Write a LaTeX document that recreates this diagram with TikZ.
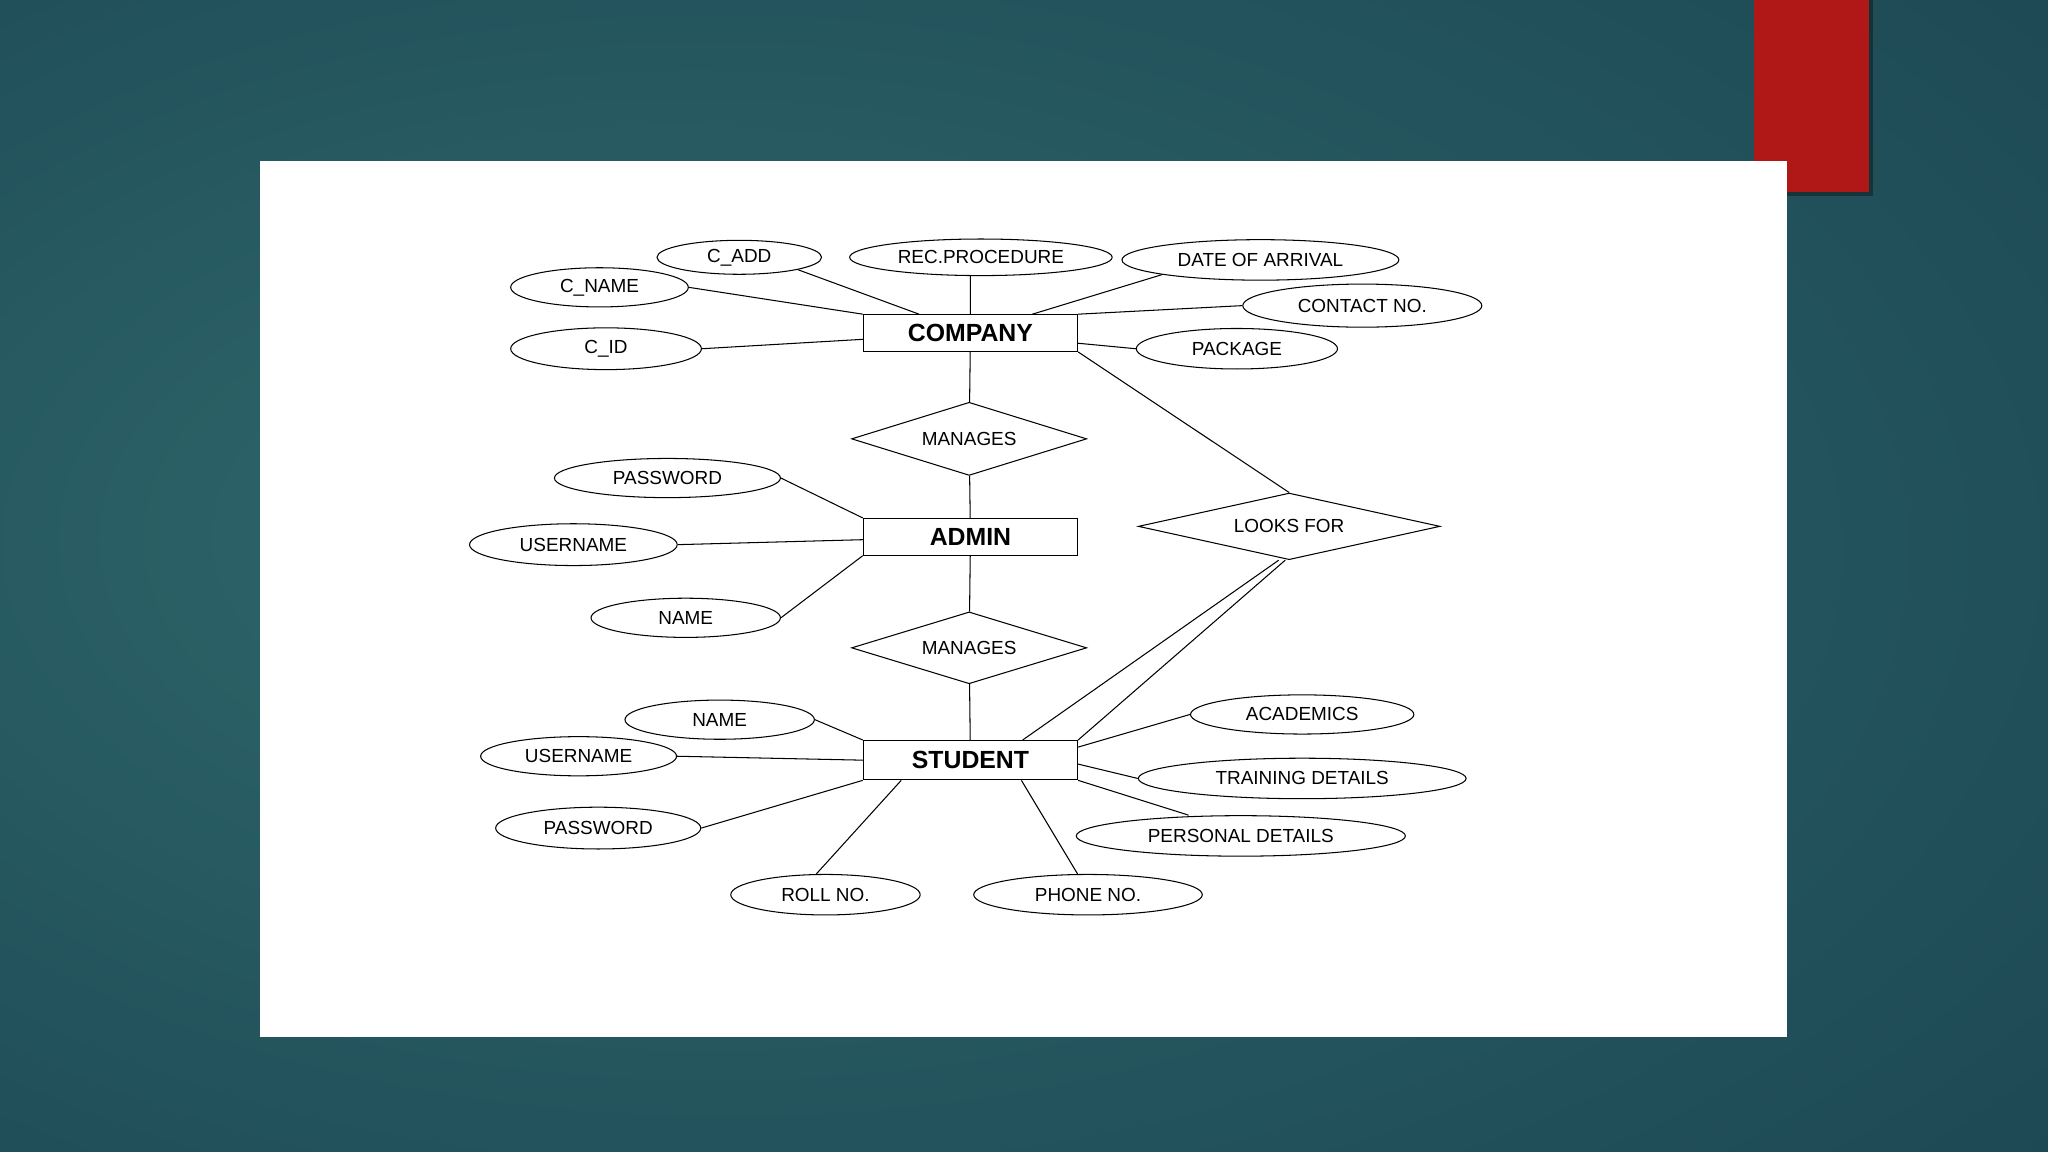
\documentclass[tikz,border=0pt]{standalone}
\usepackage{fontspec}
\setmainfont{Liberation Sans}
\usetikzlibrary{shapes.geometric}
\definecolor{bgdark}{HTML}{143747}
\definecolor{bgmid}{HTML}{21505A}
\definecolor{bglight}{HTML}{2F686B}
\definecolor{tabred}{HTML}{B01717}
\pgfdeclareradialshading{slidebg}{\pgfpoint{-12bp}{2bp}}{color(0bp)=(bglight); color(30bp)=(bgmid); color(62bp)=(bgdark)}
\newcommand{\attrfont}{\fontsize{14.5}{17}\selectfont}
\newcommand{\entfont}{\fontsize{19}{22}\selectfont\bfseries}
\tikzset{
    attr/.style={ellipse,draw,line width=0.8pt,fill=white,inner sep=0pt,font=\attrfont},
    entity/.style={rectangle,draw,line width=0.9pt,fill=white,minimum width=164pt,minimum height=28pt,inner sep=0pt,font=\entfont},
    rel/.style={diamond,draw,line width=0.8pt,fill=white,aspect=3,inner sep=0pt,font=\attrfont},
    link/.style={draw,line width=0.8pt},
}
\begin{document}
\begin{tikzpicture}[x=1pt,y=-1pt]
    \shade[shading=slidebg] (0,0) rectangle (1568,882);
    \useasboundingbox (0,0) rectangle (1568,882);
    \fill[black,opacity=.35] (1345,0) rectangle (1434,150);
    \fill[tabred] (1343,0) rectangle (1431,147);
    \fill[white] (199,123) rectangle (1368,794);

    \node[entity] (company) at (743,255) {COMPANY};
    \node[attr,minimum width=126pt,minimum height=26pt] (cadd) at (566,197) {C\_ADD};
    \node[attr,minimum width=201pt,minimum height=28pt] (recproc) at (751,197) {REC.PROCEDURE};
    \node[attr,minimum width=212pt,minimum height=31pt] (arrival) at (965,199) {DATE OF ARRIVAL};
    \node[attr,minimum width=136pt,minimum height=30pt] (cname) at (459,220) {C\_NAME};
    \node[attr,minimum width=183pt,minimum height=33pt] (contact) at (1043,234) {CONTACT NO.};
    \node[attr,minimum width=146pt,minimum height=32pt] (cid) at (464,267) {C\_ID};
    \node[attr,minimum width=154pt,minimum height=31pt] (package) at (947,267) {PACKAGE};

    \node[rel,minimum width=180pt,minimum height=56pt] (manages1) at (742,336) {MANAGES};
    \node[rel,minimum width=231pt,minimum height=51pt] (looksfor) at (987,403) {LOOKS FOR};

    \node[entity] (admin) at (743,411) {ADMIN};
    \node[attr,minimum width=173pt,minimum height=30pt] (apass) at (511,366) {PASSWORD};
    \node[attr,minimum width=159pt,minimum height=32pt] (auser) at (439,417) {USERNAME};
    \node[attr,minimum width=145pt,minimum height=30pt] (aname) at (525,473) {NAME};

    \node[rel,minimum width=180pt,minimum height=55pt] (manages2) at (742,496) {MANAGES};

    \node[entity,minimum height=30pt] (student) at (743,582) {STUDENT};
    \node[attr,minimum width=145pt,minimum height=30pt] (sname) at (551,551) {NAME};
    \node[attr,minimum width=150pt,minimum height=30pt] (suser) at (443,579) {USERNAME};
    \node[attr,minimum width=157pt,minimum height=32pt] (spass) at (458,634) {PASSWORD};
    \node[attr,minimum width=145pt,minimum height=31pt] (rollno) at (632,685) {ROLL NO.};
    \node[attr,minimum width=175pt,minimum height=31pt] (phoneno) at (833,685) {PHONE NO.};
    \node[attr,minimum width=171pt,minimum height=30pt] (academics) at (997,547) {ACADEMICS};
    \node[attr,minimum width=251pt,minimum height=31pt] (training) at (997,596) {TRAINING DETAILS};
    \node[attr,minimum width=252pt,minimum height=31pt] (personal) at (950,640) {PERSONAL DETAILS};

    \path[link]
    (cadd.south east) -- (company)
    (cname.east) -- (company.north west)
    (cid.east) -- (company)
    (company.north |- recproc.south) -- (company.north)
    (arrival.south west) -- (company)
    (contact.west) -- (company.north east)
    (package.west) -- (company)
    (company) -- (manages1)
    (company.south east) -- (looksfor.north)
    (manages1) -- (admin)
    (apass.east) -- (admin.north west)
    (auser.east) -- (admin)
    (aname.east) -- (admin.south west)
    (admin) -- (manages2)
    (manages2) -- (student)
    ([xshift=-8pt]looksfor.south) -- ([xshift=40pt]student.north)
    ([xshift=-3pt]looksfor.south) -- (student.north east)
    (sname.east) -- (student.north west)
    (suser.east) -- (student.west)
    (spass.east) -- (student.south west)
    ([xshift=-7pt]rollno.north) -- ([xshift=-53pt]student.south)
    ([xshift=-8pt]phoneno.north) -- ([xshift=39pt]student.south)
    (academics.west) -- ([yshift=10pt]student.east)
    (training.west) -- ([yshift=-3pt]student.east)
    ([xshift=-40pt]personal.north) -- (student.south east);
\end{tikzpicture}
\end{document}
